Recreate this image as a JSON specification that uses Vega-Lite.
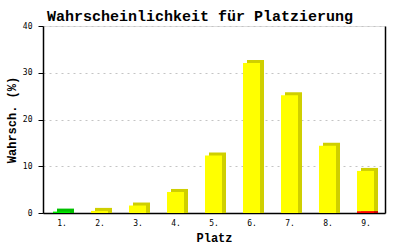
{
  "$schema": "https://vega.github.io/schema/vega-lite/v6.json",
  "autosize": "none",
  "width": 342,
  "height": 187,
  "padding": {"left": 43, "top": 26, "right": 15, "bottom": 37},
  "background": "white",
  "title": {
    "text": "Wahrscheinlichkeit für Platzierung",
    "font": "Liberation Mono",
    "fontSize": 15,
    "fontWeight": "bold",
    "color": "black",
    "anchor": "middle",
    "dx": -14,
    "dy": 3,
    "offset": 1
  },
  "data": {
    "values": [
      {"platz": "1.", "teil": "grün", "wert": 0.3},
      {"platz": "2.", "teil": "gelb", "wert": 0.45},
      {"platz": "3.", "teil": "gelb", "wert": 1.6},
      {"platz": "4.", "teil": "gelb", "wert": 4.5},
      {"platz": "5.", "teil": "gelb", "wert": 12.3},
      {"platz": "6.", "teil": "gelb", "wert": 32.1},
      {"platz": "7.", "teil": "gelb", "wert": 25.2},
      {"platz": "8.", "teil": "gelb", "wert": 14.4},
      {"platz": "9.", "teil": "rot", "wert": 0.4},
      {"platz": "9.", "teil": "gelb", "wert": 8.6}
    ]
  },
  "transform": [
    {"stack": "wert", "groupby": ["platz"], "sort": [{"field": "teil", "order": "descending"}], "as": ["y0", "y1"]}
  ],
  "encoding": {
    "x": {
      "field": "platz",
      "type": "ordinal",
      "scale": {"paddingInner": 0.5, "paddingOuter": 0.25},
      "axis": {
        "title": "Platz",
        "titleFont": "Liberation Mono",
        "titleFontSize": 12,
        "titleFontWeight": "bold",
        "titleColor": "black",
        "titlePadding": 5,
        "labelAngle": 0,
        "labelFont": "DejaVu Sans Mono",
        "labelFontSize": 8,
        "labelColor": "black",
        "labelPadding": 6,
        "ticks": false,
        "domainColor": "black",
        "domainWidth": 1.5,
        "grid": false
      }
    },
    "y": {
      "field": "y1",
      "type": "quantitative",
      "scale": {"domain": [0, 40], "nice": false}
    },
    "y2": {"field": "y0"}
  },
  "layer": [
    {
      "mark": {"type": "bar", "width": 17, "xOffset": 3.5, "yOffset": -3, "y2Offset": 0},
      "encoding": {
        "color": {
          "field": "teil",
          "type": "nominal",
          "scale": {"domain": ["gelb", "grün", "rot"], "range": ["#cfcf00", "#00c000", "#c80000"]},
          "legend": null
        },
        "y": {
          "field": "y1",
          "type": "quantitative",
          "axis": {
            "orient": "left",
            "title": "Wahrsch. (%)",
            "titleFont": "Liberation Mono",
            "titleFontSize": 12,
            "titleFontWeight": "bold",
            "titleColor": "black",
            "titlePadding": 4,
            "values": [0, 10, 20, 30, 40],
            "labelFont": "DejaVu Sans Mono",
            "labelFontSize": 8,
            "labelColor": "black",
            "labelPadding": 6,
            "tickSize": 5,
            "tickColor": "black",
            "domainColor": "black",
            "domainWidth": 1.5,
            "grid": true,
            "gridColor": "#c4c4c4",
            "gridDash": [2, 4]
          }
        }
      }
    },
    {
      "mark": {"type": "bar", "width": 17, "xOffset": -0.5},
      "encoding": {
        "color": {
          "field": "teil",
          "type": "nominal",
          "scale": {"domain": ["gelb", "grün", "rot"], "range": ["#ffff00", "#00ee00", "#ff0000"]},
          "legend": null
        },
        "y": {
          "field": "y1",
          "type": "quantitative",
          "axis": {
            "orient": "right",
            "title": null,
            "labels": false,
            "ticks": false,
            "grid": false,
            "domainColor": "black",
            "domainWidth": 1.5
          }
        }
      }
    }
  ],
  "resolve": {"scale": {"color": "independent"}, "axis": {"y": "independent"}}
}
